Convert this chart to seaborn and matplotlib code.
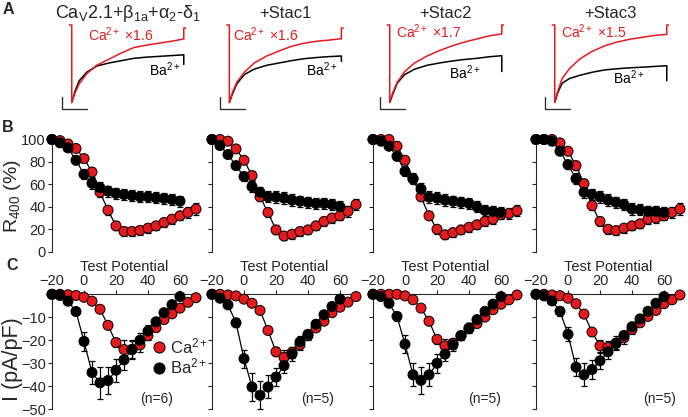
import matplotlib
matplotlib.use("Agg")
import matplotlib.pyplot as plt
import pandas as pd
import seaborn as sns
from matplotlib.lines import Line2D

RED = "#e41a1c"
W, H = 688, 417

# ---- A: current traces, normalized to peak (time in ms)
trace_t = [0, 25, 60, 120, 200, 300, 400, 500, 600, 700, 800, 900]
ca_traces = [
    [-1, -0.88, -0.76, -0.63, -0.52, -0.44, -0.36, -0.29, -0.26, -0.235, -0.21, -0.18],
    [-1, -0.87, -0.74, -0.61, -0.49, -0.40, -0.335, -0.275, -0.235, -0.21, -0.195, -0.177],
    [-1, -0.87, -0.74, -0.60, -0.49, -0.40, -0.33, -0.27, -0.22, -0.18, -0.14, -0.115],
    [-1, -0.85, -0.69, -0.56, -0.44, -0.34, -0.27, -0.22, -0.185, -0.16, -0.135, -0.121],
]
ba_traces = [
    [-1, -0.86, -0.72, -0.61, -0.53, -0.49, -0.46, -0.43, -0.415, -0.405, -0.395, -0.385],
    [-1, -0.89, -0.76, -0.64, -0.57, -0.52, -0.49, -0.46, -0.435, -0.42, -0.408, -0.40],
    [-1, -0.89, -0.75, -0.64, -0.57, -0.52, -0.49, -0.465, -0.445, -0.43, -0.41, -0.396],
    [-1, -0.87, -0.75, -0.69, -0.65, -0.61, -0.58, -0.565, -0.553, -0.545, -0.535, -0.526],
]
ca_tail = [-0.04, -0.04, 0.0, 0.0]
ba_tail = [-0.51, -0.47, -0.60, -0.72]
ca_factor = ["1.6", "1.6", "1.7", "1.5"]
titles = ["Ca$_\\mathrm{V}$2.1+β$_\\mathrm{1a}$+α$_\\mathrm{2}$-δ$_\\mathrm{1}$",
          "+Stac1", "+Stac2", "+Stac3"]

# ---- B: R400 (%) vs test potential
v_ba = [-20, -15, -10, -5, 0, 5, 10, 15, 20, 25, 30, 35, 40, 45, 50, 55, 60]
v_ca = [-20, -15, -10, -5, 0, 5, 10, 15, 20, 25, 30, 35, 40, 45, 50, 55, 60, 65, 70]
r400_ba = [
    [100, 97, 92.5, 81.5, 69, 61, 57, 54, 52, 51, 50, 49, 49, 48, 47.5, 46.5, 45],
    [100, 94.6, 86.6, 76.7, 67, 58, 53, 49, 48.7, 47.8, 46, 45, 44, 43, 43, 42, 40],
    [100, 98.5, 94, 85, 71.6, 65, 55.8, 48.7, 47.8, 46, 45, 44, 43, 40, 36.7, 36, 35],
    [100, 100, 98.5, 89.6, 77.6, 65, 53, 51, 48.7, 46, 44, 42, 38, 37.3, 36, 36, 35],
]
r400_ca = [
    [100, 99, 96, 92, 83, 71, 53, 37, 23, 18, 18, 19, 21, 23, 26, 29, 32, 35, 38],
    [100, 100, 98.5, 91.6, 81.5, 67.8, 49, 35, 19.4, 14, 15.5, 18, 19.4, 23, 27, 30, 32, 36, 42],
    [100, 100, 100, 94, 81.5, 65, 49, 32, 20, 15, 17, 19.4, 21.8, 24, 27, 29, 33, 34, 36.4],
    [100, 100, 100, 97, 89.6, 76.7, 60.6, 41, 27, 20, 18.8, 21, 23, 24.8, 29, 30, 32, 35, 38],
]
r400_ba_err = [0, 1, 2, 3, 4, 5, 5, 5, 5, 5, 5, 5, 5, 5, 5, 5, 5]
r400_ca_err = [0, 1, 1, 2, 3, 4, 4, 4, 4, 4, 4, 4, 4, 4, 4, 4, 4, 5, 5]

# ---- C: I-V (pA/pF)
iv_ba = [
    [0, -0.5, -3, -7.5, -20.5, -34, -38.5, -37.5, -33, -28.5, -24, -20, -16, -12, -8, -4.5, -1],
    [0, -1.7, -4.6, -12.4, -28, -40.3, -43.9, -40.3, -36, -31, -26, -20.7, -17.4, -13, -8.9, -5.3, -2.1],
    [0, -1, -3.9, -9.6, -21.7, -35, -37.4, -35, -30, -26, -22, -18, -14.6, -11, -7.4, -4.3, -1],
    [0, -0.7, -2.9, -7.4, -17.4, -31.7, -35, -32.7, -28.9, -25, -21.3, -17.9, -14.1, -10.7, -7.4, -3.9, -1],
]
iv_ca = [
    [0, 0, -0.2, -0.5, -1.3, -3, -6.5, -13.5, -21, -24, -24, -22, -18, -14.5, -11, -8.5, -6, -3.5, -1.5],
    [0, 0, -0.3, -0.7, -2.1, -3.9, -7, -15.7, -25, -27.4, -25.3, -22, -18, -14.6, -11.7, -8, -5.6, -3.4, -1],
    [0, 0, 0, 0, -0.7, -2.4, -6, -11.7, -19.6, -22.4, -21.3, -18, -15, -12.7, -9.9, -6.7, -4.3, -2.4, -0.3],
    [0, 0, -0.3, -0.6, -1.7, -4.1, -8.6, -16.4, -22.4, -23.1, -21.3, -18.9, -15.3, -12.4, -9.6, -7, -4.1, -2.4, -0.3],
]
iv_ba_err = [
    [0, 0.5, 1, 1.5, 4, 5, 7, 6, 5, 4.5, 3.5, 3, 2.5, 2, 1.5, 1, 0.5],
    [0, 0.5, 1, 2, 4, 6, 6, 5, 4, 3, 3, 2.5, 2, 1.5, 1, 0.5, 0.3],
    [0, 0.5, 1, 2, 4, 5, 6, 5, 4, 3, 2.5, 2, 2, 1.5, 1, 0.5, 0.3],
    [0, 0.5, 1, 2, 3, 4, 5, 4, 3.5, 3, 2.5, 2, 2, 1.5, 1, 0.5, 0.3],
]
iv_ca_err = [
    [0, 0, 0, 0, 0.3, 0.5, 1, 1.5, 2, 4, 4, 3, 2, 1.5, 1, 1, 0.5, 0.5, 0.5],
    [0, 0, 0, 0, 0.3, 0.5, 1, 1.5, 2, 3, 2.5, 2, 2, 1.5, 1, 1, 0.5, 0.5, 0.3],
    [0, 0, 0, 0, 0.3, 0.5, 1, 1.5, 2, 3, 2.5, 2, 2, 1.5, 1, 1, 0.5, 0.5, 0.3],
    [0, 0, 0, 0, 0.3, 0.5, 1, 1.5, 2.5, 3, 3, 2.5, 2, 1.5, 1, 1, 0.5, 0.5, 0.3],
]
n_cells = ["(n=6)", "(n=5)", "(n=5)", "(n=5)"]

sns.set_style("ticks")
plt.rcParams["font.family"] = ["Liberation Sans", "DejaVu Sans"]
plt.rcParams["mathtext.fontset"] = "custom"
plt.rcParams["mathtext.rm"] = "Liberation Sans"
plt.rcParams["mathtext.it"] = "Liberation Sans:italic"
plt.rcParams["mathtext.bf"] = "Liberation Sans:bold"

fig = plt.figure(figsize=(W / 100, H / 100), dpi=100)


def px_axes(left, top, width, height):
    return fig.add_axes([left / W, 1 - (top + height) / H, width / W, height / H])


def long_df(v, vals, err, ion):
    return pd.DataFrame({"V": v[:len(vals)], "val": vals, "err": err, "ion": ion})


def draw_points(ax, df):
    sns.lineplot(data=df, x="V", y="val", units="ion", estimator=None, color="k",
                 lw=0.9, ax=ax, legend=False)
    for ion, d in df.groupby("ion", sort=False):
        ax.errorbar(d["V"], d["val"], yerr=d["err"], fmt="none", ecolor="k",
                    elinewidth=0.9, capsize=2.2, capthick=0.9, zorder=3, clip_on=False)
    sns.scatterplot(data=df, x="V", y="val", hue="ion", palette={"Ca": RED, "Ba": "k"},
                    s=52, edgecolor="k", linewidth=0.7, legend=False, zorder=4,
                    clip_on=False, ax=ax)


trace_x0 = [71.7, 229.3, 389.7, 554.7]
ca_text_t = [131, 30, 51, 51]
ca_text_y = [-0.13, -0.13, -0.09, -0.09]
ba_text_t = [870, 870, 731, 718]
ba_text_y = [-0.58, -0.58, -0.61, -0.68]
title_size = [13, 12, 12, 12]
lefts = [52, 212, 373, 536]
n_x = [45.3, 46, 50, 57]

for i in range(4):
    # A traces
    ax = px_axes(trace_x0[i] - 12.4, 18.8, 130.7, 95.3)
    ax.set_xlim(-100, 950)
    ax.set_ylim(-1.15, 0.08)
    ax.axis("off")
    sns.lineplot(x=trace_t + [900], y=ba_traces[i] + [ba_tail[i]], sort=False,
                 estimator=None, color="k", lw=1.1, ax=ax)
    sns.lineplot(x=[-20, 0] + trace_t + [900, 915],
                 y=[0, 0] + ca_traces[i] + [ca_tail[i], ca_tail[i]], sort=False,
                 estimator=None, color=RED, lw=1.1, ax=ax)
    ax.plot([-75, -75, 125], [-0.925, -1.09, -1.09], color="0.2", lw=1)
    ax.text(ca_text_t[i], ca_text_y[i], "Ca$^{2+}$ ×" + ca_factor[i], color=RED,
            fontsize=10, va="center", ha="left")
    ax.text(ba_text_t[i], ba_text_y[i], "Ba$^{2+}$", color="k",
            fontsize=10, va="center", ha="right")
    ax.text(450, 0.15, titles[i], ha="center", va="center", fontsize=title_size[i],
            clip_on=False)

    # B: R400
    ax = px_axes(lefts[i], 139.5, 144, 112.2)
    dfb = pd.concat([long_df(v_ca, r400_ca[i], r400_ca_err, "Ca"),
                     long_df(v_ba, r400_ba[i], r400_ba_err, "Ba")], ignore_index=True)
    draw_points(ax, dfb)
    ax.set_xlim(-20, 70)
    ax.set_ylim(0, 100)
    sns.despine(ax=ax, bottom=True)
    ax.spines["left"].set_bounds(0, 100)
    ax.set_xticks([])
    ax.set_yticks([0, 20, 40, 60, 80, 100])
    ax.tick_params(axis="y", length=3, width=0.8, pad=1.5, labelsize=10.5)
    ax.set_xlabel("")
    if i == 0:
        ax.set_ylabel("R$_{400}$ (%)", fontsize=14)
        ax.yaxis.set_label_coords(-0.2, 0.5)
    else:
        ax.set_ylabel("")
        ax.tick_params(labelleft=False)

    # C: I-V
    ax = px_axes(lefts[i], 294.3, 144, 115)
    dfc = pd.concat([long_df(v_ca, iv_ca[i], iv_ca_err[i], "Ca"),
                     long_df(v_ba, iv_ba[i], iv_ba_err[i], "Ba")], ignore_index=True)
    draw_points(ax, dfc)
    ax.set_xlim(-20, 70)
    ax.set_ylim(-50, 0)
    ax.spines["right"].set_visible(False)
    ax.spines["bottom"].set_visible(False)
    ax.xaxis.tick_top()
    ax.xaxis.set_label_position("top")
    ax.set_xticks([-20, 0, 20, 40, 60])
    ax.set_yticks([-50, -40, -30, -20, -10])
    ax.tick_params(length=3, width=0.8, pad=1.5, labelsize=10.5)
    ax.set_xlabel("Test Potential", fontsize=10.5, labelpad=2)
    ax.text(n_x[i], -45.5, n_cells[i], ha="center", va="center", fontsize=10)
    if i == 0:
        ax.set_ylabel("I (pA/pF)", fontsize=15.5)
        ax.yaxis.set_label_coords(-0.2, 0.435)
        handles = [Line2D([], [], marker="o", ls="", mfc=RED, mec="k", ms=8, mew=0.7),
                   Line2D([], [], marker="o", ls="", mfc="k", mec="k", ms=8, mew=0.7)]
        ax.legend(handles, ["Ca$^{2+}$", "Ba$^{2+}$"], loc="center left",
                  bbox_to_anchor=(0.69, 0.46), frameon=False, fontsize=12,
                  handletextpad=0.2, labelspacing=0.05, handlelength=0.9,
                  borderpad=0, borderaxespad=0)
    else:
        ax.set_ylabel("")
        ax.tick_params(axis="y", labelleft=False)

for letter, (x, y) in zip("ABC", [(8, 10), (8, 128), (12, 266)]):
    fig.text(x / W, 1 - y / H, letter, fontsize=11.5, fontweight="bold",
             ha="center", va="center")

fig.savefig("out.png", dpi=100)
